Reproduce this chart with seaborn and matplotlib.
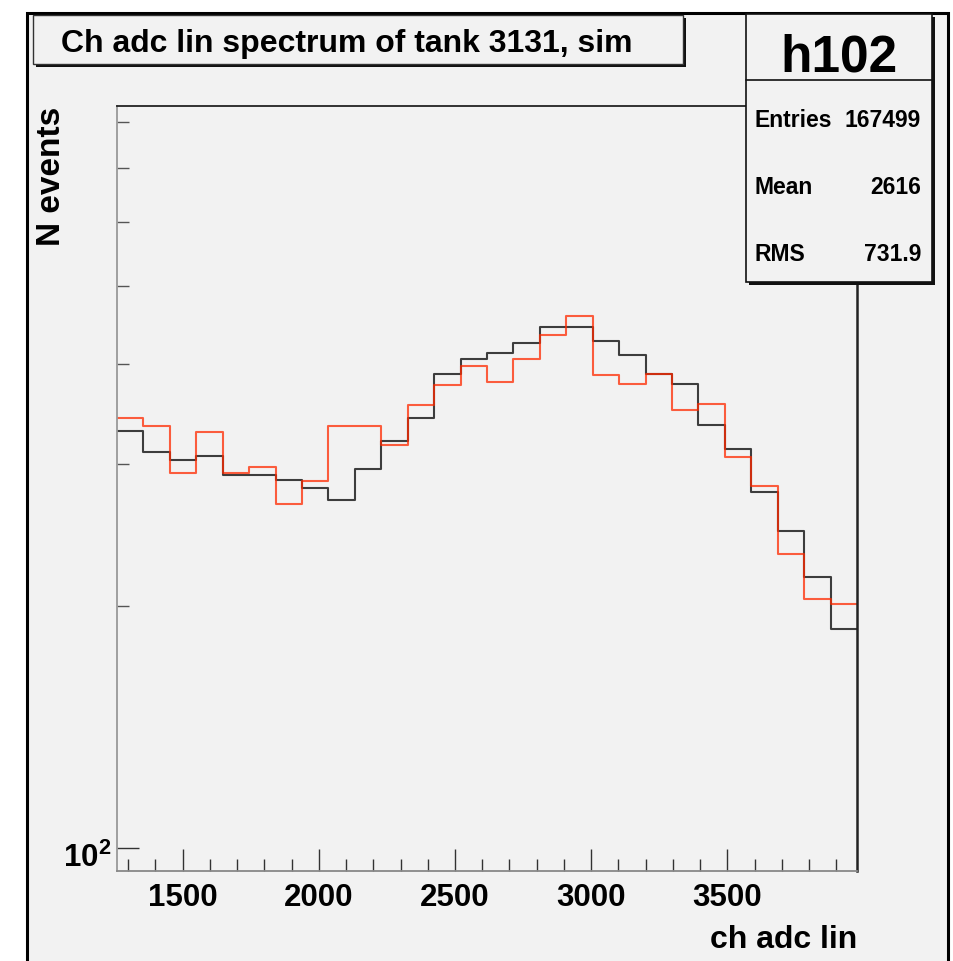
import numpy as np
import pandas as pd
import matplotlib
matplotlib.use("Agg")
import matplotlib.pyplot as plt
import matplotlib.transforms as mtransforms
from matplotlib.patches import Rectangle
from matplotlib.ticker import FixedLocator, NullFormatter, FixedFormatter
import seaborn as sns

# ---------------- data ----------------
x_lo, x_hi, n_bins = 1259.0, 3976.0, 28
counts_black = [330, 311, 304, 307, 291, 291, 287, 280, 271, 296,
                321, 343, 389, 405, 413, 424, 444, 444, 427, 410,
                389, 378, 336, 313, 277, 248, 217, 187]
counts_red = [343, 335, 293, 329, 293, 298, 268, 286, 335, 335,
              317, 356, 377, 398, 380, 405, 435, 459, 387, 378,
              389, 350, 357, 306, 282, 232, 204, 201]
x_major = [1500, 2000, 2500, 3000, 3500]
x_minor = [1300, 1400, 1600, 1700, 1800, 1900, 2100, 2200, 2300, 2400,
           2600, 2700, 2800, 2900, 3100, 3200, 3300, 3400, 3600, 3700,
           3800, 3900]
y_major = [100]
y_major_labels = [r"$\mathbf{10^{2}}$"]
y_minor = [200, 300, 400, 500, 600, 700, 800]
y_lo, y_hi = 93.6, 837.0
title = "Ch adc lin spectrum of tank 3131, sim"
hist_name = "h102"
stats = [("Entries", "167499"), ("Mean", "2616"), ("RMS", "731.9")]
xlabel = "ch adc lin"
ylabel = "N events"

edges = [float(e) for e in np.linspace(x_lo, x_hi, n_bins + 1)]
centers = [0.5 * (a + b) for a, b in zip(edges[:-1], edges[1:])]
df_black = pd.DataFrame({"adc": centers, "n": counts_black})
df_red = pd.DataFrame({"adc": centers, "n": counts_red})

# ---------------- style ----------------
sns.set_theme(style="ticks")
plt.rcParams["font.family"] = ["Liberation Sans", "DejaVu Sans"]
plt.rcParams["font.weight"] = "bold"
plt.rcParams["mathtext.fontset"] = "custom"
plt.rcParams["mathtext.rm"] = "Liberation Sans"
plt.rcParams["mathtext.bf"] = "Liberation Sans:bold"
for key in ["text.color", "axes.labelcolor", "xtick.labelcolor", "ytick.labelcolor"]:
    plt.rcParams[key] = "black"

W, H = 954, 962
BG = "#f2f2f2"
fig = plt.figure(figsize=(W / 100, H / 100), dpi=100)
fig.patch.set_facecolor("white")

def fx(x):
    return x / W

def fy(y):
    return 1 - y / H

# outer frame
fig.patches.append(Rectangle((fx(27.5), fy(975)), fx(948) - fx(27.5), fy(13.5) - fy(975),
                             transform=fig.transFigure, facecolor=BG,
                             edgecolor="black", lw=2.2, zorder=-10))

# axes
ax = fig.add_axes([fx(117), fy(872), fx(857) - fx(117), fy(107) - fy(872)])
ax.set_facecolor(BG)
ax.set_zorder(1)

sns.histplot(data=df_black, x="adc", weights="n", bins=edges, element="step",
             fill=False, color="black", alpha=0.75, lw=1.5, ax=ax)
sns.histplot(data=df_red, x="adc", weights="n", bins=edges, element="step",
             fill=False, color="#ff2a00", alpha=0.75, lw=1.5, ax=ax)

ax.set_yscale("log")
ax.set_xlim(x_lo, x_hi)
ax.set_ylim(y_lo, y_hi)

ax.xaxis.set_major_locator(FixedLocator(x_major))
ax.xaxis.set_minor_locator(FixedLocator(x_minor))
ax.xaxis.set_minor_formatter(NullFormatter())
ax.yaxis.set_major_locator(FixedLocator(y_major))
ax.yaxis.set_major_formatter(FixedFormatter(y_major_labels))
ax.yaxis.set_minor_locator(FixedLocator(y_minor))
ax.yaxis.set_minor_formatter(NullFormatter())

ax.tick_params(axis="both", which="both", direction="in")
ax.tick_params(axis="x", which="major", length=15.8, width=1.0, color="#333333",
               labelsize=22.5, pad=8)
ax.tick_params(axis="x", which="minor", length=8.6, width=1.0, color="#333333")
ax.tick_params(axis="y", which="major", length=15.8, width=1.0, color="#333333",
               labelsize=22.5, pad=4)
ax.tick_params(axis="y", which="minor", length=8.6, width=1.0, color="#555555")
shift = mtransforms.ScaledTranslation(0, -6 / 100, fig.dpi_scale_trans)
for lab in ax.get_yticklabels():
    lab.set_fontweight("bold")
    lab.set_transform(lab.get_transform() + shift)
for lab in ax.get_xticklabels():
    lab.set_fontweight("bold")

ax.spines["top"].set_color("#222222")
ax.spines["right"].set_color("#222222")
ax.spines["left"].set_color("#999999")
ax.spines["bottom"].set_color("#888888")
for s in ax.spines.values():
    s.set_linewidth(1.3)
ax.spines["right"].set_linewidth(1.8)

ax.set_xlabel(xlabel, fontsize=23, fontweight="bold", loc="right")
ax.xaxis.set_label_coords(1.0, -0.069)
ax.set_ylabel(ylabel, fontsize=24, fontweight="bold", loc="top")
ax.yaxis.set_label_coords(-0.068, 1.0)

# boxes with ROOT-like shadow
def box(x0, y0, x1, y1, ec="#333333", lw=1.0):
    fig.patches.append(Rectangle((fx(x0 + 3), fy(y1 + 3)), fx(x1) - fx(x0), fy(y0) - fy(y1),
                                 transform=fig.transFigure, facecolor="#111111",
                                 edgecolor="none", zorder=5))
    fig.patches.append(Rectangle((fx(x0), fy(y1)), fx(x1) - fx(x0), fy(y0) - fy(y1),
                                 transform=fig.transFigure, facecolor=BG,
                                 edgecolor=ec, lw=lw, zorder=6))

box(33, 16, 683, 65)
fig.text(fx(61), fy(52), title, fontsize=23, fontweight="bold", ha="left",
         va="baseline", zorder=7)

box(746, 15, 932, 283, ec="#111111", lw=1.2)
fig.add_artist(plt.Line2D([fx(746), fx(932)], [fy(81), fy(81)], color="#111111",
                          lw=1.2, zorder=7))
fig.text(fx(839), fy(72), hist_name, fontsize=37, fontweight="bold", ha="center",
         va="baseline", zorder=7)
for i, (k, v) in enumerate(stats):
    yb = 127 + 67 * i
    fig.text(fx(755), fy(yb), k, fontsize=16.5, fontweight="bold", ha="left",
             va="baseline", zorder=7)
    fig.text(fx(921), fy(yb), v, fontsize=16.5, fontweight="bold", ha="right",
             va="baseline", zorder=7)

fig.savefig("out.png", dpi=100)
